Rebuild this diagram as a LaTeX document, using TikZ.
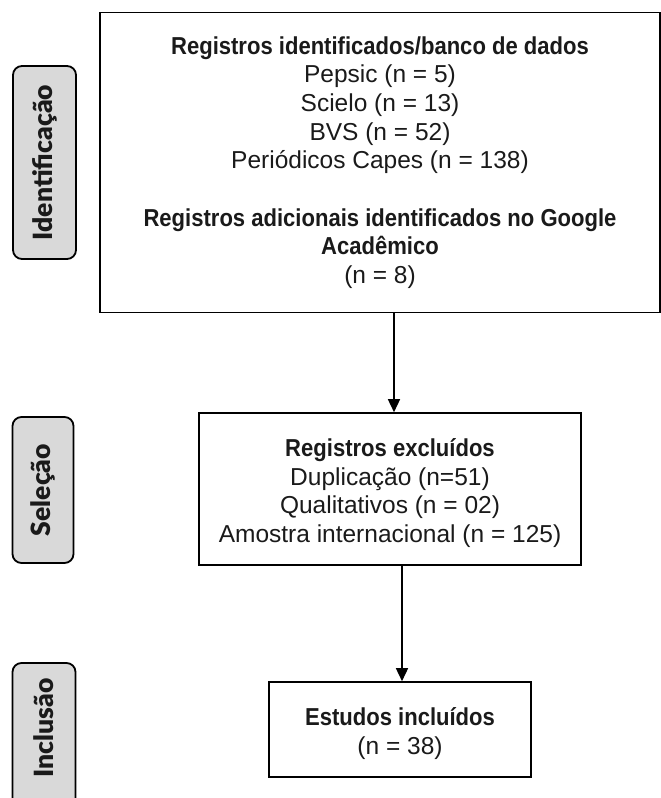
\documentclass[tikz,border=0pt]{standalone}
\usepackage{fontspec}
\setmainfont{Liberation Sans}[BoldFeatures={FakeStretch=0.9}]
\newfontfamily\labelfont{Lato Black}
\usetikzlibrary{arrows.meta}
\definecolor{txt}{HTML}{1A1A1A}
\definecolor{labelgray}{HTML}{D9D9D9}
\tikzset{
  mainbox/.style={draw=black, line width=1.6pt, text=txt, align=center, inner sep=0pt,
    font=\fontsize{24.5}{28.7}\selectfont},
  sidelabel/.style={draw=black, line width=1.8pt, fill=labelgray, rounded corners=9pt,
    inner sep=0pt},
  sidetext/.style={rotate=90, text=txt, font=\labelfont\fontsize{26.5}{30}\selectfont},
  arr/.style={line width=1.5pt, -{Triangle[length=13pt,width=12pt]}}
}
\begin{document}
\begin{tikzpicture}[x=1pt,y=-1pt]
\useasboundingbox (0,0) rectangle (661,798);
% side labels
\node[sidelabel, minimum width=63pt, minimum height=193pt] (lid) at (44.5,162.5) {};
\node[sidetext] (tid) at (lid.center) {Identificação};
\node[sidelabel, minimum width=61pt, minimum height=146pt] (lsel) at (43,490) {};
\node[sidetext] (tsel) at (lsel.center) {Seleção};
\node[sidelabel, minimum width=63pt, minimum height=150pt] (linc) at (44,738) {};
\node[sidetext] (tinc) at (44,728) {Inclusão};
% main boxes
\node[mainbox, minimum width=560pt, minimum height=300pt] (b1) at (380,162.5)
  {\textbf{Registros identificados/banco de dados}\\
   Pepsic (n = 5)\\
   Scielo (n = 13)\\
   BVS (n = 52)\\
   Periódicos Capes (n = 138)\\[28.7pt]
   \textbf{Registros adicionais identificados no Google}\\
   \textbf{Acadêmico}\\
   (n = 8)};
\node[draw=black, line width=1.6pt, minimum width=382pt, minimum height=152pt] (b2) at (390,489) {};
\node[mainbox, draw=none] (t2) at (390,493)
  {\textbf{Registros excluídos}\\
   Duplicação (n=51)\\
   Qualitativos (n = 02)\\
   Amostra internacional (n = 125)};
\node[draw=black, line width=1.6pt, minimum width=262pt, minimum height=95pt] (b3) at (400,729.5) {};
\node[mainbox, draw=none] (t3) at (400,733.5)
  {\textbf{Estudos incluídos}\\
   (n = 38)};
% arrows
\coordinate (c1) at (394,0);
\coordinate (c2) at (402,0);
\draw[arr] (b1.south -| c1) -- (b2.north -| c1);
\draw[arr] (b2.south -| c2) -- (b3.north -| c2);
\end{tikzpicture}
\end{document}
